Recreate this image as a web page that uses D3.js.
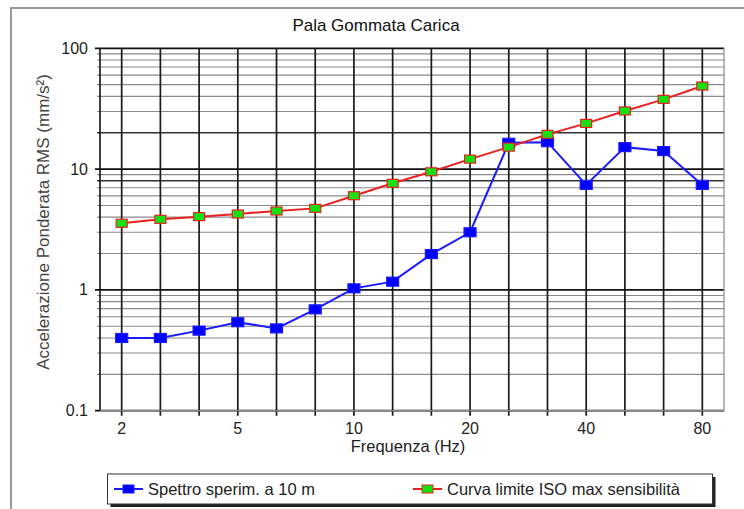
<!DOCTYPE html>
<html><head><meta charset="utf-8">
<script src="https://cdn.jsdelivr.net/npm/d3@7"></script>
<style>
html,body{margin:0;padding:0;background:#fff;}
svg{display:block;font-family:"Liberation Sans",Arial,sans-serif;}
</style></head>
<body><svg id="c" width="744" height="509"></svg>
<script>
const categories = ["2","3","4","5","6.3","8","10","12.5","16","20","25","31.5","40","50","63","80"];
const xTickLabels = ["2","5","10","20","40","80"];
const yTicks = [0.1, 1, 10, 100];
const spettro = [0.40, 0.40, 0.46, 0.54, 0.48, 0.69, 1.03, 1.17, 1.98, 3.0, 16.5, 16.7, 7.4, 15.2, 14.1, 7.4];
const curvaISO = [3.56, 3.84, 4.04, 4.25, 4.50, 4.73, 6.02, 7.63, 9.5, 12.1, 15.2, 19.4, 23.9, 30.3, 37.8, 48.7];
const seriesNames = ["Spettro sperim. a 10 m", "Curva limite ISO max sensibilità"];

const svg = d3.select("#c");
const L = 100, R = 724, T = 48.3, B = 410.7;

// outer frame
svg.append("path").attr("d", `M11,509 V8 H744`).attr("fill","none").attr("stroke","#999").attr("stroke-width",2);

const x = d3.scalePoint().domain(categories).range([L, R]).padding(0.56);
const y = d3.scaleLog().domain([0.1, 100]).range([B, T]);

// horizontal gridlines
const minor = [];
[0.1, 1, 10].forEach(d => { for (let k = 2; k <= 9; k++) minor.push(+(d * k).toPrecision(3)); });
const g = svg.append("g");
g.selectAll("line.minor").data(minor).join("line")
  .attr("x1", L - 3).attr("x2", R)
  .attr("y1", d => y(d)).attr("y2", d => y(d))
  .attr("stroke", d => (d === 20 || d === 8) ? "#333" : "#8a8a8a")
  .attr("stroke-width", d => (d === 20 || d === 8) ? 1.5 : 1.1);
g.selectAll("line.major").data(yTicks).join("line")
  .attr("x1", L - 5).attr("x2", R)
  .attr("y1", d => y(d)).attr("y2", d => y(d))
  .attr("stroke", "#111").attr("stroke-width", 1.7);

// vertical gridlines
g.selectAll("line.v").data(categories).join("line")
  .attr("x1", d => x(d)).attr("x2", d => x(d))
  .attr("y1", T).attr("y2", B + 5)
  .attr("stroke", "#1a1a1a").attr("stroke-width", 1.7);

// plot border
svg.append("line").attr("x1", L).attr("x2", L).attr("y1", T).attr("y2", B).attr("stroke", "#111").attr("stroke-width", 1.6);
svg.append("line").attr("x1", R).attr("x2", R).attr("y1", T).attr("y2", B).attr("stroke", "#888").attr("stroke-width", 1.2);
svg.append("line").attr("x1", L).attr("x2", R).attr("y1", B).attr("y2", B).attr("stroke", "#888").attr("stroke-width", 1.2);

// y tick labels
svg.selectAll("text.yt").data(yTicks).join("text")
  .attr("x", L - 12).attr("y", d => y(d) + 5.5)
  .attr("text-anchor", "end").attr("font-size", 16).attr("fill", "#222")
  .text(d => d3.format("~g")(d));

// x tick labels
svg.selectAll("text.xt").data(xTickLabels).join("text")
  .attr("x", d => x(d)).attr("y", B + 23)
  .attr("text-anchor", "middle").attr("font-size", 16).attr("fill", "#222")
  .text(d => d);

// titles
svg.append("text").attr("x", 376).attr("y", 31).attr("text-anchor", "middle")
  .attr("font-size", 17).attr("fill", "#111").text("Pala Gommata Carica");
svg.append("text").attr("x", 408).attr("y", 452).attr("text-anchor", "middle")
  .attr("font-size", 16.5).attr("fill", "#222").text("Frequenza (Hz)");
svg.append("text").attr("transform", `translate(49,222) rotate(-90)`)
  .attr("text-anchor", "middle").attr("font-size", 17).attr("fill", "#444")
  .text("Accelerazione Ponderata RMS (mm/s²)");

// series
const line = d3.line().x((d, i) => x(categories[i])).y(d => y(d));
function drawSeries(data, stroke, fill, mw, mh) {
  svg.append("path").datum(data).attr("d", line)
    .attr("fill", "none").attr("stroke", stroke).attr("stroke-width", 2);
  svg.append("g").selectAll("rect").data(data).join("rect")
    .attr("x", (d, i) => x(categories[i]) - mw / 2)
    .attr("y", d => y(d) - mh / 2)
    .attr("width", mw).attr("height", mh)
    .attr("fill", fill).attr("stroke", stroke).attr("stroke-width", 1.2);
}
drawSeries(spettro, "#1a1aff", "#0000ff", 12, 9);
drawSeries(curvaISO, "#e8201e", "#14e014", 11, 8);

// legend
const lg = svg.append("g");
lg.append("rect").attr("x", 110.5).attr("y", 477).attr("width", 605).attr("height", 30).attr("fill", "#222");
lg.append("rect").attr("x", 107.5).attr("y", 474).attr("width", 605).attr("height", 30)
  .attr("fill", "#fff").attr("stroke", "#333").attr("stroke-width", 1);
const items = [
  {name: seriesNames[0], x: 114, stroke: "#1a1aff", fill: "#0000ff"},
  {name: seriesNames[1], x: 413, stroke: "#e8201e", fill: "#14e014"}
];
items.forEach(it => {
  lg.append("line").attr("x1", it.x).attr("x2", it.x + 29).attr("y1", 489).attr("y2", 489)
    .attr("stroke", it.stroke).attr("stroke-width", 2);
  lg.append("rect").attr("x", it.x + 9).attr("y", 485).attr("width", 11).attr("height", 8)
    .attr("fill", it.fill).attr("stroke", it.stroke).attr("stroke-width", 1);
  lg.append("text").attr("x", it.x + 34).attr("y", 494.5).attr("font-size", 16.5).attr("fill", "#222").text(it.name);
});
</script></body></html>
